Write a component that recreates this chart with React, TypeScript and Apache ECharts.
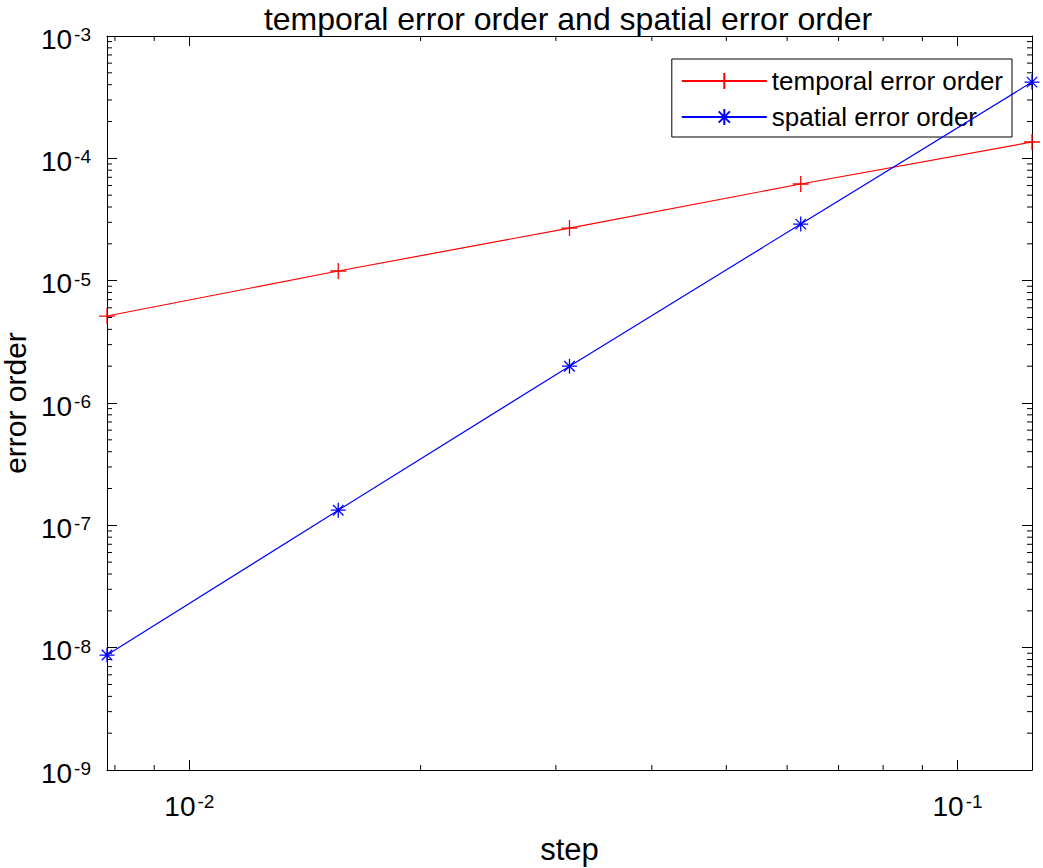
import React, { useEffect, useRef } from "react";
import * as echarts from "echarts";

const X_STEPS = [1 / 128, 1 / 64, 1 / 32, 1 / 16, 1 / 8];
const TEMPORAL = [5.14e-6, 1.2e-5, 2.69e-5, 6.17e-5, 1.36e-4];
const SPATIAL = [8.7e-9, 1.33e-7, 2.0e-6, 2.9e-5, 4.2e-4];

const X_MIN = 1 / 128;
const X_MAX = 1 / 8;
const Y_MIN = 1e-9;
const Y_MAX = 1e-3;

const X_MINOR_TICKS = [0.008, 0.009, 0.02, 0.03, 0.04, 0.05, 0.06, 0.07, 0.08, 0.09];
const Y_MINOR_MANTISSAS = [2, 3, 4, 5, 6, 7, 8, 9];
const Y_MINOR_DECADES = [-9, -8, -7, -6, -5, -4];

const FONT = "Liberation Sans";

export default function App() {
  const ref = useRef<HTMLDivElement>(null);

  useEffect(() => {
    if (!ref.current) return;
    const chart = echarts.init(ref.current, undefined, { renderer: "svg" });

    const yMinor: number[][] = [];
    Y_MINOR_DECADES.forEach((d) => {
      Y_MINOR_MANTISSAS.forEach((m) => {
        yMinor.push([X_MIN, Number((m * Math.pow(10, d)).toPrecision(3))]);
      });
    });
    const xMinor = X_MINOR_TICKS.map((v) => [v, Y_MIN]);

    const fmt = (v: number) => {
      const e = Math.round(Math.log10(v));
      return `{b|10}{s|${e}}`;
    };
    const rich = {
      b: { fontSize: 28, lineHeight: 28, fontFamily: FONT, color: "#000", verticalAlign: "bottom" },
      s: { fontSize: 19, lineHeight: 19, fontFamily: FONT, color: "#000", verticalAlign: "top", padding: [0, 0, 12, 2] },
    };

    const tickLine = (x1: number, y1: number, x2: number, y2: number) => ({
      type: "line",
      shape: { x1, y1, x2, y2 },
      style: { stroke: "#000", lineWidth: 1 },
    });

    const PLUS = "path://M0,5L10,5M5,0L5,10";
    const STAR = "path://M5,0L5,10M0,5L10,5M1.5,1.5L8.5,8.5M1.5,8.5L8.5,1.5";

    const axisCommon = {
      axisLine: { show: true, lineStyle: { color: "#000", width: 1 } },
      axisTick: { show: true, inside: true, length: 10, lineStyle: { color: "#000", width: 1 } },
      splitLine: { show: false },
      minorTick: { show: false },
    };

    chart.setOption({
      animation: false,
      backgroundColor: "#fff",
      title: {
        text: "temporal error order and spatial error order",
        left: 563,
        top: -2,
        textAlign: "center",
        textStyle: { fontFamily: FONT, fontSize: 32, fontWeight: "normal", color: "#000" },
      },
      legend: {
        data: ["temporal error order", "spatial error order"],
        orient: "vertical",
        right: 31,
        top: 59,
        backgroundColor: "#fff",
        borderColor: "#000",
        borderWidth: 1,
        borderRadius: 0,
        padding: [9, 9, 7, 9],
        itemWidth: 85,
        itemHeight: 20,
        itemGap: 10,
        itemTextGap: 5,
        selectedMode: false,
        textStyle: { fontFamily: FONT, fontSize: 26, color: "#000" },
      },
      grid: { left: 107, right: 11, top: 36, bottom: 98, containLabel: false, outerBoundsMode: "none" },
      xAxis: [
        {
          ...axisCommon,
          type: "log",
          logBase: 10,
          min: X_MIN,
          max: X_MAX,
          position: "bottom",
          name: "step",
          nameLocation: "middle",
          nameGap: 64,
          nameTextStyle: { fontFamily: FONT, fontSize: 31, color: "#000" },
          axisLabel: {
            formatter: fmt,
            rich,
            margin: 22,
            showMinLabel: false,
            showMaxLabel: false,
          },
        },
        {
          ...axisCommon,
          type: "log",
          logBase: 10,
          min: X_MIN,
          max: X_MAX,
          position: "top",
          axisLabel: { show: false },
        },
      ],
      yAxis: [
        {
          ...axisCommon,
          type: "log",
          logBase: 10,
          min: Y_MIN,
          max: Y_MAX,
          position: "left",
          name: "error order",
          nameLocation: "middle",
          nameGap: 79,
          nameRotate: 90,
          nameTextStyle: { fontFamily: FONT, fontSize: 30, lineHeight: 24, color: "#000" },
          axisLabel: { formatter: fmt, rich, margin: 16, padding: [6, 0, 0, 0] },
        },
        {
          ...axisCommon,
          type: "log",
          logBase: 10,
          min: Y_MIN,
          max: Y_MAX,
          position: "right",
          axisLabel: { show: false },
        },
      ],
      series: [
        {
          name: "temporal error order",
          type: "line",
          data: X_STEPS.map((x, i) => [x, TEMPORAL[i]]),
          symbol: PLUS,
          symbolSize: 16,
          showAllSymbol: true,
          lineStyle: { color: "#ff0000", width: 1.2 },
          itemStyle: { color: "#ff0000", borderColor: "#ff0000", borderWidth: 1.3 },
          z: 5,
        },
        {
          name: "spatial error order",
          type: "line",
          data: X_STEPS.map((x, i) => [x, SPATIAL[i]]),
          symbol: STAR,
          symbolSize: 15,
          showAllSymbol: true,
          lineStyle: { color: "#0000ff", width: 1.2 },
          itemStyle: { color: "#0000ff", borderColor: "#0000ff", borderWidth: 1.3 },
          z: 5,
        },
        {
          type: "custom",
          silent: true,
          data: xMinor,
          encode: { x: 0, y: 1 },
          renderItem: (_p: any, api: any) => {
            const v = api.value(0);
            const b = api.coord([v, Y_MIN]);
            const t = api.coord([v, Y_MAX]);
            return {
              type: "group",
              children: [tickLine(b[0], b[1], b[0], b[1] - 5), tickLine(t[0], t[1], t[0], t[1] + 5)],
            };
          },
        },
        {
          type: "custom",
          silent: true,
          data: yMinor,
          encode: { x: 0, y: 1 },
          renderItem: (_p: any, api: any) => {
            const v = api.value(1);
            const l = api.coord([X_MIN, v]);
            const r = api.coord([X_MAX, v]);
            return {
              type: "group",
              children: [tickLine(l[0], l[1], l[0] + 5, l[1]), tickLine(r[0], r[1], r[0] - 5, r[1])],
            };
          },
        },
      ],
    });

    return () => chart.dispose();
  }, []);

  return (
    <div
      ref={ref}
      style={{ position: "fixed", left: 0, top: 0, width: 1043, height: 868, background: "#fff" }}
    />
  );
}
